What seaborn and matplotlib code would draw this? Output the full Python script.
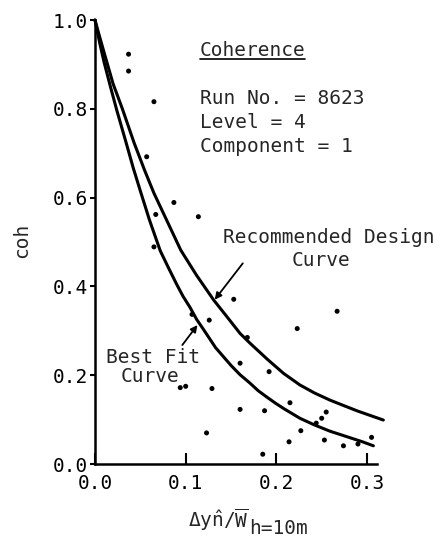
import matplotlib
matplotlib.use("Agg")
import matplotlib.pyplot as plt
import seaborn as sns
import pandas as pd
from matplotlib.lines import Line2D

# ---- data ----
pt_x = [0.037, 0.037, 0.065, 0.057, 0.087, 0.067, 0.114, 0.065, 0.153, 0.267,
        0.107, 0.126, 0.223, 0.168, 0.160, 0.192, 0.094, 0.100, 0.129, 0.215,
        0.160, 0.187, 0.255, 0.250, 0.244, 0.227, 0.123, 0.305, 0.253, 0.214,
        0.274, 0.290, 0.185]
pt_y = [0.923, 0.885, 0.816, 0.692, 0.589, 0.562, 0.557, 0.489, 0.371, 0.344,
        0.337, 0.324, 0.305, 0.285, 0.227, 0.208, 0.172, 0.175, 0.170, 0.138,
        0.123, 0.120, 0.117, 0.103, 0.092, 0.075, 0.070, 0.060, 0.054, 0.050,
        0.041, 0.045, 0.022]

best_x = [0.000, 0.005, 0.010, 0.017, 0.024, 0.034, 0.042, 0.050, 0.060, 0.072,
          0.081, 0.090, 0.097, 0.105, 0.112, 0.120, 0.133, 0.150, 0.160, 0.171,
          0.180, 0.190, 0.199, 0.208, 0.217, 0.226, 0.242, 0.259, 0.271, 0.283,
          0.295, 0.307]
best_y = [1.000, 0.950, 0.905, 0.850, 0.797, 0.726, 0.668, 0.615, 0.550, 0.480,
          0.442, 0.405, 0.378, 0.352, 0.326, 0.302, 0.262, 0.222, 0.201, 0.182,
          0.165, 0.150, 0.137, 0.125, 0.114, 0.103, 0.088, 0.074, 0.066, 0.058,
          0.050, 0.041]

design_x = [0.000, 0.005, 0.010, 0.020, 0.030, 0.043, 0.055, 0.065, 0.080, 0.0945,
            0.112, 0.131, 0.145, 0.160, 0.171, 0.190, 0.208, 0.226, 0.242, 0.259,
            0.275, 0.290, 0.304, 0.318]
design_y = [1.000, 0.963, 0.927, 0.856, 0.801, 0.724, 0.660, 0.610, 0.545, 0.482,
            0.425, 0.369, 0.333, 0.294, 0.272, 0.236, 0.204, 0.178, 0.160, 0.144,
            0.131, 0.119, 0.109, 0.099]

x_ticks = [0.0, 0.1, 0.2, 0.3]
x_tick_labels = ["0.0", "0.1", "0.2", "0.3"]
y_ticks = [0.0, 0.2, 0.4, 0.6, 0.8, 1.0]
y_tick_labels = ["0.0", "0.2", "0.4", "0.6", "0.8", "1.0"]

title_text = "Coherence"
info_text = "Run No. = 8623\nLevel = 4\nComponent = 1"

# ---- style ----
sns.set_style("ticks")
plt.rcParams['font.family'] = ['DejaVu Sans Mono', 'DejaVu Sans']
plt.rcParams['mathtext.fontset'] = 'custom'
plt.rcParams['mathtext.rm'] = 'DejaVu Sans Mono'
plt.rcParams['mathtext.it'] = 'DejaVu Sans Mono'
plt.rcParams['mathtext.bf'] = 'DejaVu Sans Mono'
FS = 14

fig = plt.figure(figsize=(4.44, 5.42), dpi=100)
ax = fig.add_axes([95 / 444, 78 / 542, (377 - 95) / 444, 444 / 542])

pts = pd.DataFrame({"x": pt_x, "y": pt_y})
best = pd.DataFrame({"x": best_x, "y": best_y})
design = pd.DataFrame({"x": design_x, "y": design_y})

sns.lineplot(data=best, x="x", y="y", sort=False, color="black", lw=2.2, ax=ax, clip_on=False)
sns.lineplot(data=design, x="x", y="y", sort=False, color="black", lw=2.2, ax=ax, clip_on=False)
sns.scatterplot(data=pts, x="x", y="y", color="black", s=13, edgecolor="none", ax=ax, clip_on=False)

ax.set_xlim(0, 0.311)
ax.set_ylim(0, 1.0)
ax.set_xticks(x_ticks)
ax.set_xticklabels(x_tick_labels)
ax.set_yticks(y_ticks)
ax.set_yticklabels(y_tick_labels)
ax.tick_params(axis='x', direction='in', length=8, width=1.5, pad=7, labelsize=FS, colors='black')
ax.tick_params(axis='y', direction='out', length=3.6, width=1.5, pad=1.5, labelsize=FS, colors='black')
for s in ["top", "right"]:
    ax.spines[s].set_visible(False)
for s in ["left", "bottom"]:
    ax.spines[s].set_linewidth(1.8)
    ax.spines[s].set_color("black")

ax.set_ylabel("coh", fontsize=FS)
ax.yaxis.set_label_coords(-0.225, 0.504)
xl = ax.set_xlabel(r"$\Delta y\hat{n}/\overline{W}$", fontsize=FS)
ax.xaxis.set_label_coords(0.33, -0.095)
xl.set_ha('left')
ax.annotate("h=10m", xy=(1.0, 0.0), xycoords=xl, xytext=(0, -1.0),
            textcoords='offset points', ha='left', va='baseline', fontsize=FS)

# annotation text
t = ax.text(0.1154, 0.932, title_text, fontsize=FS, va='center', ha='left')
ax.text(0.1154, 0.845, info_text, fontsize=FS, va='top', ha='left', linespacing=1.35)

ax.text(0.258, 0.511, "Recommended Design", fontsize=FS, ha='center', va='center')
ax.text(0.249, 0.459, "Curve", fontsize=FS, ha='center', va='center')
ax.text(0.0643, 0.239, "Best Fit", fontsize=FS, ha='center', va='center')
ax.text(0.061, 0.198, "Curve", fontsize=FS, ha='center', va='center')

ax.annotate("", xy=(0.132, 0.370), xytext=(0.163, 0.452),
            arrowprops=dict(arrowstyle='-|>', color='black', lw=1.3, mutation_scale=10,
                            shrinkA=0, shrinkB=0))
ax.annotate("", xy=(0.113, 0.313), xytext=(0.0963, 0.268),
            arrowprops=dict(arrowstyle='-|>', color='black', lw=1.3, mutation_scale=10,
                            shrinkA=0, shrinkB=0))

# underline for the title, from its rendered extent
fig.canvas.draw()
bb = t.get_window_extent(renderer=fig.canvas.get_renderer())
inv = fig.transFigure.inverted()
(x0, y0), (x1, _) = inv.transform([(bb.x0, bb.y0), (bb.x1, bb.y1)])
fig.add_artist(Line2D([x0, x1], [y0 + 0.001, y0 + 0.001], color='black', lw=1.2,
                      transform=fig.transFigure))

fig.savefig("out.png", dpi=100)
